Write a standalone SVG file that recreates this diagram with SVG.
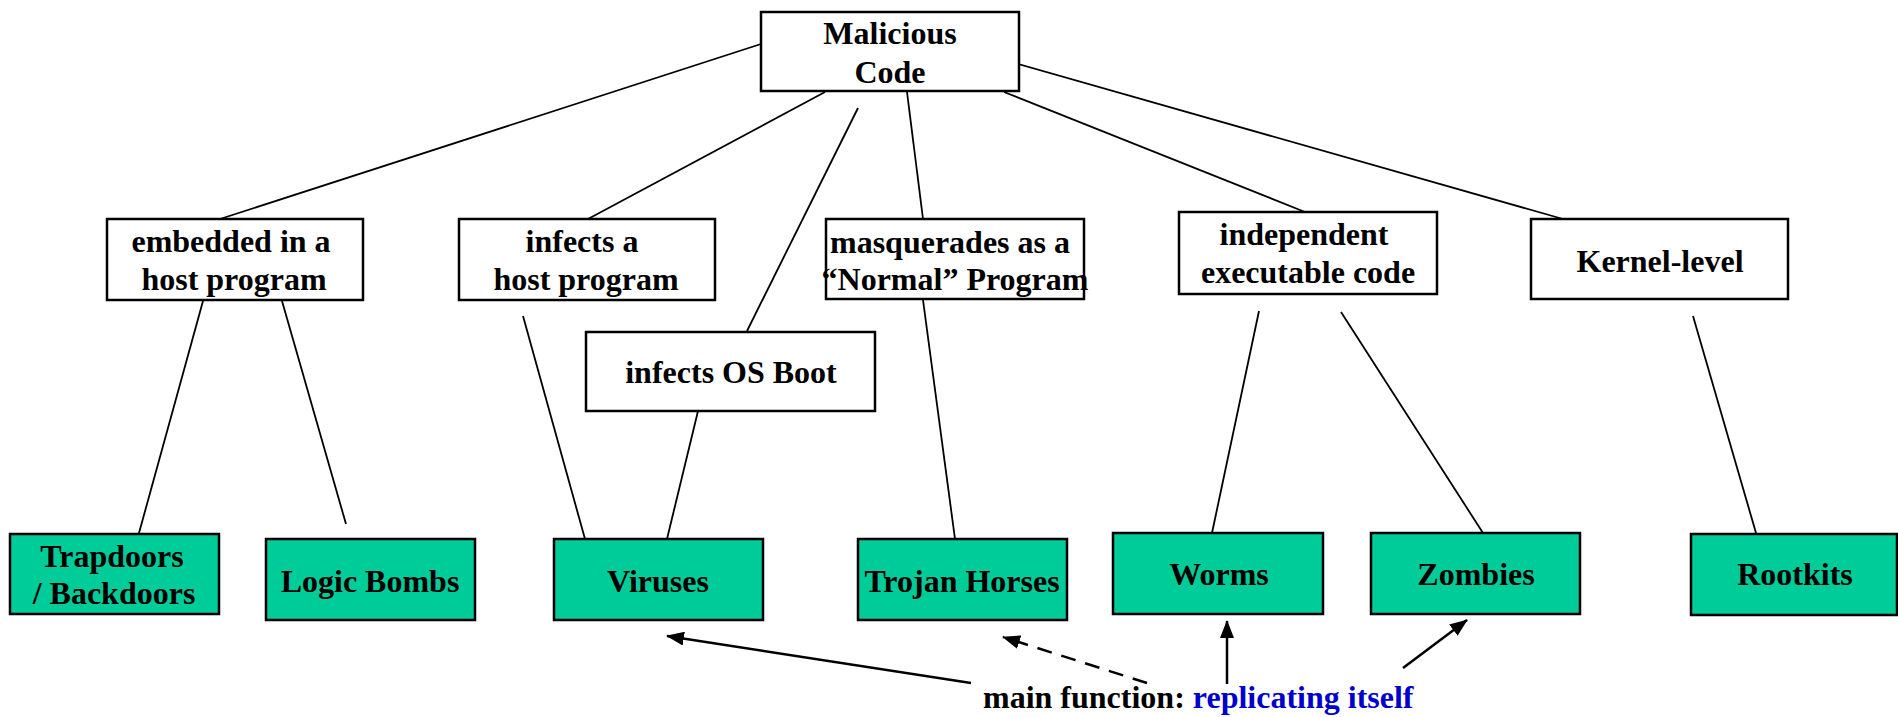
<svg xmlns="http://www.w3.org/2000/svg" width="1898" height="717" viewBox="0 0 1898 717">
  <style>
    .box { fill: #ffffff; stroke: #000000; stroke-width: 2.5; }
    .leaf { fill: #00CC99; stroke: #000000; stroke-width: 2.5; }
    .lbl { font-family: "Liberation Serif", "Times New Roman", serif; font-weight: bold; font-size: 32px; fill: #000000; text-anchor: middle; }
    .link { stroke: #000000; stroke-width: 1.8; fill: none; }
    .arrow { stroke: #000000; stroke-width: 2.5; fill: none; marker-end: url(#head); }
    .dash { stroke-dasharray: 15 10; }
    .note { font-family: "Liberation Serif", "Times New Roman", serif; font-weight: bold; font-size: 32px; fill: #000000; }
    .blue { fill: #0000CC; }
  </style>
  <defs>
    <marker id="head" markerUnits="userSpaceOnUse" viewBox="0 0 18 14" refX="17" refY="7" markerWidth="18" markerHeight="14" orient="auto">
      <path d="M0,0 L18,7 L0,14 Z" fill="#000000"/>
    </marker>
  </defs>
  <rect width="1898" height="717" fill="#ffffff"/>

  <!-- tree connectors and the "replicating" arrows -->
  <g id="connectors">
    <line class="link" x1="761" y1="44" x2="220" y2="219"/>
    <line class="link" x1="825" y1="92" x2="588" y2="219"/>
    <line class="link" x1="858" y1="108" x2="747" y2="331"/>
    <line class="link" x1="907" y1="92" x2="923" y2="219"/>
    <line class="link" x1="1004" y1="92" x2="1305" y2="212"/>
    <line class="link" x1="1004" y1="60" x2="1563" y2="219"/>
    <line class="link" x1="203" y1="301" x2="139" y2="533"/>
    <line class="link" x1="282" y1="301" x2="346" y2="524"/>
    <line class="link" x1="523" y1="316" x2="585" y2="539"/>
    <line class="link" x1="698" y1="411" x2="667" y2="539"/>
    <line class="link" x1="923" y1="300" x2="955" y2="539"/>
    <line class="link" x1="1259" y1="311" x2="1212" y2="533"/>
    <line class="link" x1="1341" y1="312" x2="1483" y2="533"/>
    <line class="link" x1="1693" y1="316" x2="1756" y2="533"/>

    <line class="arrow" x1="971" y1="683" x2="667" y2="636"/>
    <line class="arrow dash" x1="1147" y1="683" x2="1003" y2="637"/>
    <line class="arrow" x1="1227" y1="684" x2="1227" y2="621"/>
    <line class="arrow" x1="1403" y1="668" x2="1467" y2="620"/>
  </g>

  <g id="malicious-code">
    <rect class="box" x="761" y="12" width="258" height="79"/>
    <text class="lbl" x="890" y="44">Malicious</text>
    <text class="lbl" x="890" y="83">Code</text>
  </g>

  <g id="embedded">
    <rect class="box" x="107" y="219" width="256" height="81"/>
    <text class="lbl" x="231" y="252">embedded in a</text>
    <text class="lbl" x="234" y="290">host program</text>
  </g>

  <g id="infects-host">
    <rect class="box" x="459" y="219" width="256" height="81"/>
    <text class="lbl" x="582" y="252">infects a</text>
    <text class="lbl" x="586" y="290">host program</text>
  </g>

  <g id="infects-boot">
    <rect class="box" x="586" y="332" width="289" height="79"/>
    <text class="lbl" x="731" y="383">infects OS Boot</text>
  </g>

  <g id="masquerades">
    <rect class="box" x="826" y="219" width="258" height="80"/>
    <text class="lbl" x="950" y="253">masquerades as a</text>
    <text class="lbl" x="955" y="290">“Normal” Program</text>
  </g>

  <g id="independent">
    <rect class="box" x="1179" y="212" width="258" height="82"/>
    <text class="lbl" x="1304" y="245">independent</text>
    <text class="lbl" x="1308" y="283">executable code</text>
  </g>

  <g id="kernel-level">
    <rect class="box" x="1531" y="219" width="257" height="80"/>
    <text class="lbl" x="1660" y="272">Kernel-level</text>
  </g>

  <g id="trapdoors">
    <rect class="leaf" x="10" y="534" width="209" height="80"/>
    <text class="lbl" x="112" y="567">Trapdoors</text>
    <text class="lbl" x="114" y="604">/ Backdoors</text>
  </g>

  <g id="logic-bombs">
    <rect class="leaf" x="266" y="539" width="209" height="81"/>
    <text class="lbl" x="370" y="592">Logic Bombs</text>
  </g>

  <g id="viruses">
    <rect class="leaf" x="554" y="539" width="209" height="81"/>
    <text class="lbl" x="658" y="592">Viruses</text>
  </g>

  <g id="trojan-horses">
    <rect class="leaf" x="858" y="539" width="209" height="81"/>
    <text class="lbl" x="962" y="592">Trojan Horses</text>
  </g>

  <g id="worms">
    <rect class="leaf" x="1113" y="533" width="210" height="81"/>
    <text class="lbl" x="1219" y="585">Worms</text>
  </g>

  <g id="zombies">
    <rect class="leaf" x="1371" y="533" width="209" height="81"/>
    <text class="lbl" x="1476" y="585">Zombies</text>
  </g>

  <g id="rootkits">
    <rect class="leaf" x="1691" y="534" width="206" height="81"/>
    <text class="lbl" x="1795" y="585">Rootkits</text>
  </g>

  <g id="main-function">
    <text class="note" x="983" y="708">main function: <tspan class="blue">replicating itself</tspan></text>
  </g>
</svg>
